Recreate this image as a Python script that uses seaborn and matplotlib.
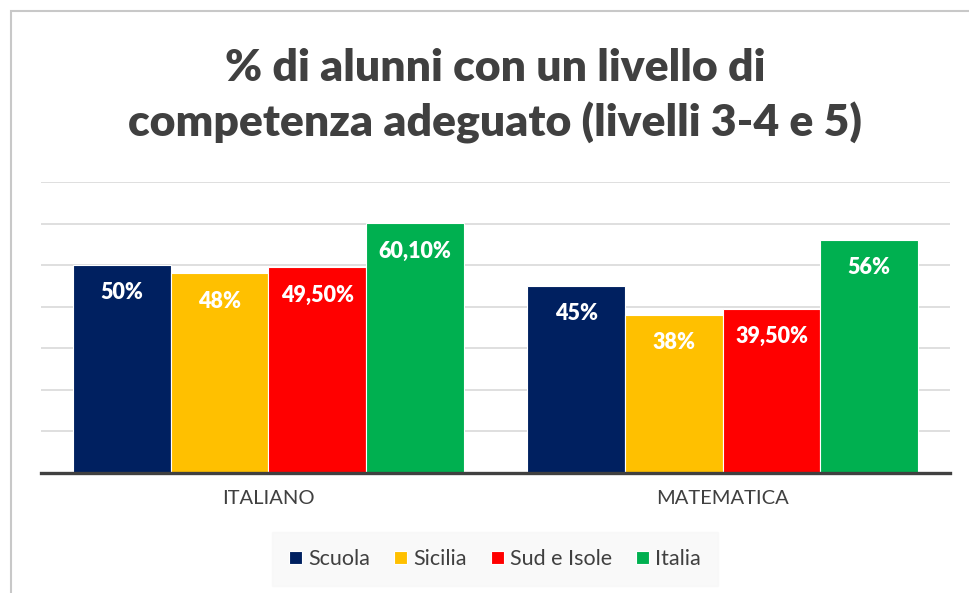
import matplotlib.pyplot as plt
import seaborn as sns
import pandas as pd
from matplotlib.patches import Rectangle

materie = ['ITALIANO', 'MATEMATICA']
gruppi = ['Scuola', 'Sicilia', 'Sud e Isole', 'Italia']
valori = {
    'Scuola': [50.0, 45.0],
    'Sicilia': [48.0, 38.0],
    'Sud e Isole': [49.5, 39.5],
    'Italia': [60.1, 56.0],
}
etichette = {
    'Scuola': ['50%', '45%'],
    'Sicilia': ['48%', '38%'],
    'Sud e Isole': ['49,50%', '39,50%'],
    'Italia': ['60,10%', '56%'],
}
colori = ['#002060', '#FFC000', '#FF0000', '#00B050']

righe = []
for g in gruppi:
    for m, v in zip(materie, valori[g]):
        righe.append({'materia': m, 'gruppo': g, 'valore': v})
df = pd.DataFrame(righe)

sns.set_style('white')
plt.rcParams['font.family'] = ['Lato', 'DejaVu Sans']

fig = plt.figure(figsize=(9.69, 5.93), dpi=100)
ax = fig.add_axes([41 / 969, 120 / 593, 909 / 969, 291 / 593])

sns.barplot(data=df, x='materia', y='valore', hue='gruppo', order=materie,
            hue_order=gruppi, palette=colori, saturation=1, width=0.86,
            edgecolor='white', linewidth=0.8, ax=ax, legend=True)

# etichette dei valori dentro le barre
for cont, g in zip(ax.containers, gruppi):
    for bar, lab in zip(cont, etichette[g]):
        ax.annotate(lab, (bar.get_x() + bar.get_width() / 2, bar.get_height()),
                    xytext=(0, -20), textcoords='offset points', ha='center',
                    va='center', color='white', fontsize=15.5, fontweight='heavy')

ax.set_ylim(0, 70)
ax.set_yticks(range(0, 71, 10))
ax.yaxis.grid(True, color='#d9d9d9', linewidth=1.2)
ax.set_axisbelow(True)
ax.tick_params(axis='y', left=False, labelleft=False)
ax.tick_params(axis='x', bottom=False, labelsize=14.5, labelcolor='#404040', pad=9)
ax.set_xlabel('')
ax.set_ylabel('')
for s in ['top', 'right', 'left']:
    ax.spines[s].set_visible(False)
ax.spines['bottom'].set_color('#404040')
ax.spines['bottom'].set_linewidth(2.4)

leg = ax.legend(loc='center', bbox_to_anchor=(495 / 969, 1 - 559 / 593),
                bbox_transform=fig.transFigure, ncol=4, frameon=True,
                fontsize=15.5, handlelength=0.6, handleheight=0.6,
                handletextpad=0.3, columnspacing=1.1, borderpad=0.5)
leg.get_frame().set_facecolor('#f8f8f8')
leg.get_frame().set_edgecolor('#f8f8f8')
leg.get_frame().set_boxstyle('square')
for t in leg.get_texts():
    t.set_color('#404040')

fig.text(495 / 969, 1 - 96 / 593, '% di alunni con un livello di\ncompetenza adeguato (livelli 3-4 e 5)',
         ha='center', va='center', fontsize=32, fontweight='heavy',
         color='#404040', linespacing=1.4)

# cornice del grafico
fig.patches.append(Rectangle((11 / 969, -0.05), 1.0, 1 - 11 / 593 + 0.05,
                             transform=fig.transFigure, fill=False,
                             edgecolor='#c8c8c8', linewidth=1.5))

fig.savefig('out.png', dpi=100)
